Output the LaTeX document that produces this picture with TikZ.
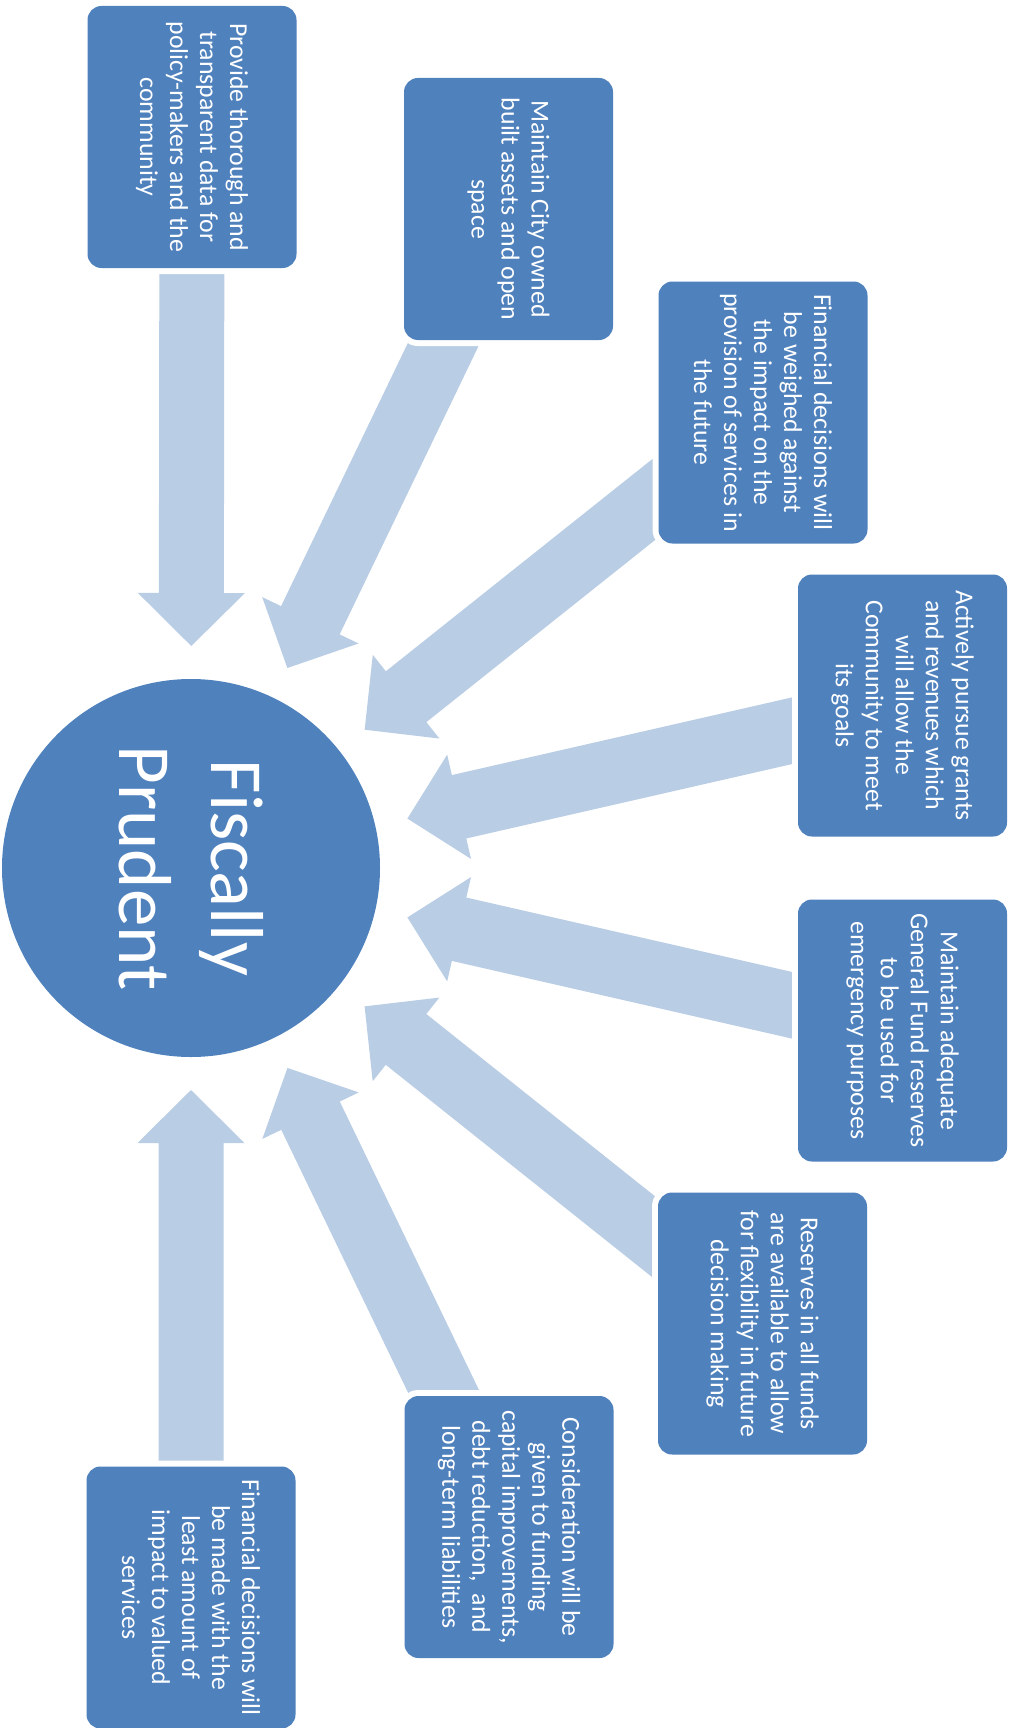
\documentclass[tikz,border=0pt]{standalone}
\usepackage{fontspec}
\setmainfont{Carlito}
\usetikzlibrary{calc,backgrounds}
\definecolor{boxblue}{RGB}{79,129,189}
\definecolor{arrowblue}{RGB}{185,205,229}
\tikzset{
  goalbox/.style={rectangle, rounded corners=7pt, fill=boxblue,
    preaction={draw=white, line width=6pt}, text=white, rotate=-90,
    minimum width=131pt, minimum height=104.5pt, inner sep=0pt, align=center,
    font=\fontsize{12.9}{15}\selectfont},
  hub/.style={circle, fill=boxblue, minimum size=189pt, inner sep=0pt,
    text=white, rotate=-90, align=center, font=\fontsize{37.5}{46}\selectfont},
  radarrow/.style={fill=arrowblue}
}
\newcommand\radialarrow[2]{%
  \coordinate (#1-tip) at ($(#2.center)!111pt!(#1.center)$);
  \coordinate (#1-base) at ($(#2.center)!137.5pt!(#1.center)$);
  \fill[radarrow] ($(#1.center)!16.25pt!90:(#2.center)$)
    -- ($(#1-base)!16.25pt!90:(#2.center)$)
    -- ($(#1-base)!26.75pt!90:(#2.center)$)
    -- (#1-tip)
    -- ($(#1-base)!26.75pt!-90:(#2.center)$)
    -- ($(#1-base)!16.25pt!-90:(#2.center)$)
    -- ($(#1.center)!16.25pt!-90:(#2.center)$) -- cycle;
}
\begin{document}
\begin{tikzpicture}[x=0.5pt, y=-0.5pt]
\useasboundingbox (0,0) rectangle (1011,1728);
\node[hub] (c) at (191,868) {Fiscally\\Prudent};
\node[goalbox] (b1) at (192,137) {Provide thorough and\\transparent data for\\policy-makers and the\\community};
\node[goalbox] (b2) at (508.5,209) {Maintain City owned\\built assets and open\\space};
\node[goalbox] (b3) at (763,412.5) {Financial decisions will\\be weighed against\\the impact on the\\provision of services in\\the future};
\node[goalbox] (b4) at (902.5,705.5) {Actively pursue grants\\and revenues which\\will allow the\\Community to meet\\its goals};
\node[goalbox] (b5) at (902.5,1030.5) {Maintain adequate\\General Fund reserves\\to be used for\\emergency purposes};
\node[goalbox] (b6) at (762.5,1323.5) {Reserves in all funds\\are available to allow\\for flexibility in future\\decision making};
\node[goalbox] (b7) at (509,1527) {Consideration will be\\given to funding\\capital improvements,\\debt reduction,~ and\\long-term liabilities};
\node[goalbox] (b8) at (191,1597.5) {Financial decisions will\\be made with the\\least amount of\\impact to valued\\services};
\begin{scope}[on background layer]
  \radialarrow{b1}{c}
  \radialarrow{b2}{c}
  \radialarrow{b3}{c}
  \radialarrow{b4}{c}
  \radialarrow{b5}{c}
  \radialarrow{b6}{c}
  \radialarrow{b7}{c}
  \radialarrow{b8}{c}
\end{scope}
\end{tikzpicture}
\end{document}
